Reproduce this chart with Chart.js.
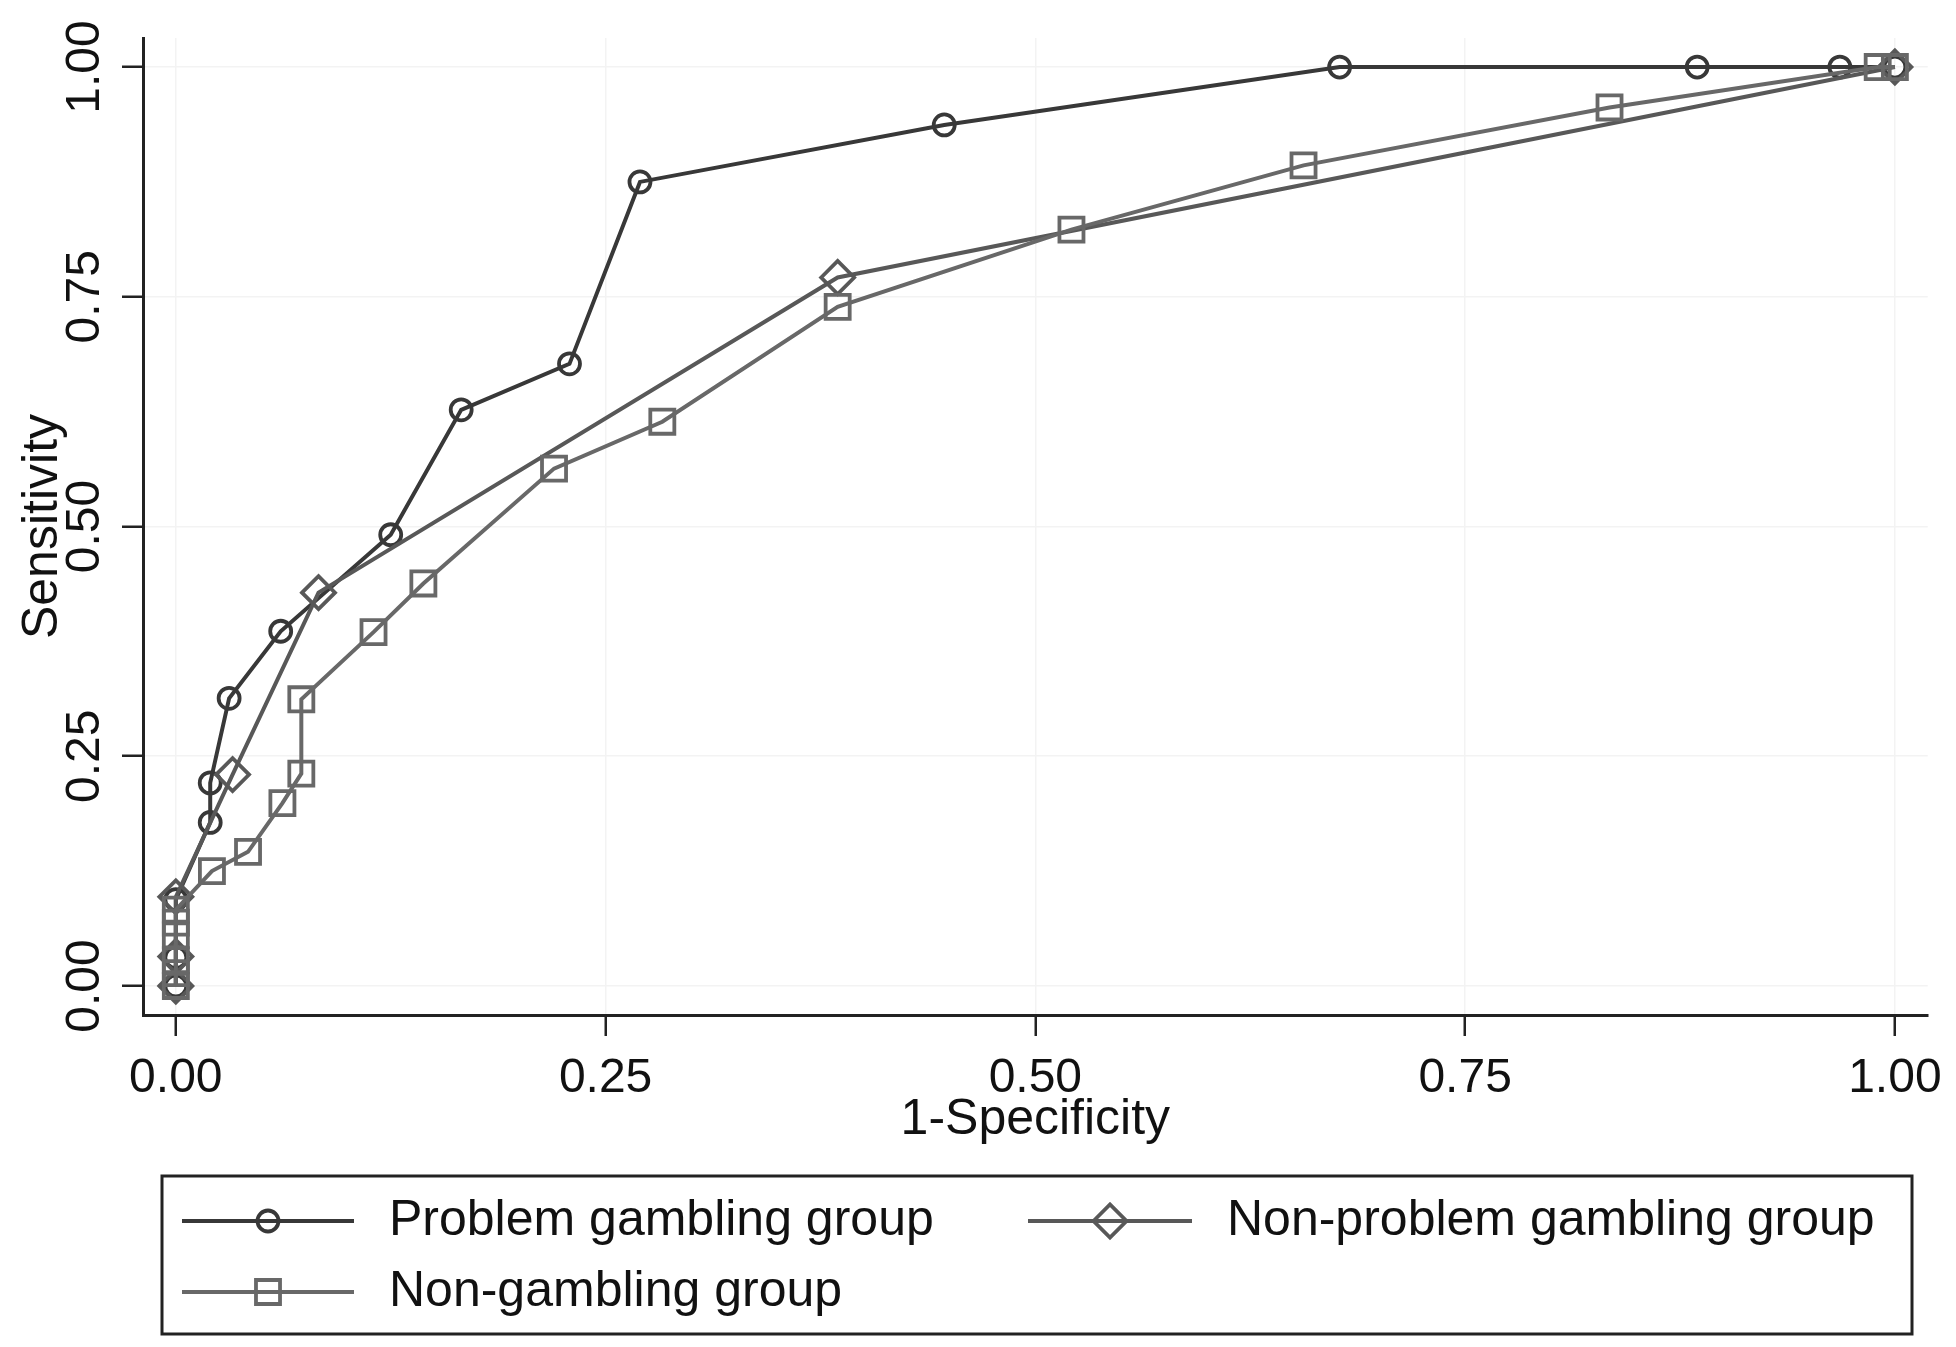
<!DOCTYPE html>
<html lang="en">
<head>
<meta charset="UTF-8">
<title>ROC curves by gambling group</title>
<script src="https://cdn.jsdelivr.net/npm/chart.js"></script>
<style>
  html, body { margin: 0; padding: 0; background: #fff; }
  canvas { display: block; }
</style>
</head>
<body>
<canvas id="roc" width="1956" height="1347"></canvas>
<script>
// tick positions on both axes
const tickValues = [0, 0.25, 0.5, 0.75, 1];

const seriesLabels = ['Problem gambling group', 'Non-problem gambling group', 'Non-gambling group'];

// Problem gambling group (circles)
const problemX = [0, 0, 0, 0.020, 0.020, 0.031, 0.061, 0.125, 0.166, 0.229, 0.270, 0.447, 0.677, 0.885, 0.968, 1];
const problemY = [0, 0.031, 0.094, 0.178, 0.221, 0.313, 0.386, 0.491, 0.627, 0.677, 0.875, 0.937, 1, 1, 1, 1];

// Non-problem gambling group (diamonds)
const nonProblemX = [0, 0, 0, 0.033, 0.083, 0.385, 1];
const nonProblemY = [0, 0.032, 0.097, 0.230, 0.428, 0.771, 1];

// Non-gambling group (squares)
const nonGamblingX = [0, 0, 0, 0, 0, 0, 0.021, 0.042, 0.062, 0.073, 0.073, 0.115, 0.144, 0.220, 0.283, 0.385, 0.521, 0.656, 0.834, 0.990, 1];
const nonGamblingY = [0, 0.014, 0.028, 0.055, 0.069, 0.083, 0.125, 0.146, 0.199, 0.231, 0.312, 0.385, 0.438, 0.563, 0.614, 0.739, 0.823, 0.893, 0.956, 1, 1];

const FONT = '"Liberation Sans", Arial, Helvetica, sans-serif';

function pts(xs, ys) {
  return xs.map((x, i) => ({ x: x, y: ys[i] }));
}

function series(label, data, color, style, radius, order) {
  return {
    label: label,
    data: data,
    borderColor: color,
    borderWidth: 4,
    pointStyle: style,
    pointRadius: radius,
    pointBorderWidth: 3.8,
    pointBorderColor: color,
    pointBackgroundColor: 'rgba(0,0,0,0)',
    fill: false,
    tension: 0,
    order: order
  };
}

// y tick labels are rotated (read bottom to top) like the original
const yTickText = {
  id: 'yTickText',
  afterDraw(chart) {
    const ctx = chart.ctx;
    const ys = chart.scales.y;
    ctx.save();
    ctx.fillStyle = '#111';
    ctx.textAlign = 'center';
    ctx.textBaseline = 'middle';
    ctx.font = '48px ' + FONT;
    ys.ticks.forEach(t => {
      ctx.save();
      ctx.translate(86, ys.getPixelForValue(t.value));
      ctx.rotate(-Math.PI / 2);
      ctx.fillText(t.value.toFixed(2), 0, 0);
      ctx.restore();
    });
    ctx.restore();
  }
};

// boxed legend with line + marker samples, two columns
const boxLegend = {
  id: 'boxLegend',
  afterDraw(chart) {
    const ctx = chart.ctx;
    ctx.save();
    ctx.strokeStyle = '#222';
    ctx.lineWidth = 3;
    ctx.strokeRect(162, 1176, 1750, 158);
    const slots = [[182, 354, 1221], [1028, 1192, 1221], [182, 354, 1292]];
    chart.data.datasets.forEach((ds, i) => {
      const s = slots[i];
      ctx.strokeStyle = ds.borderColor;
      ctx.lineWidth = ds.borderWidth;
      ctx.beginPath();
      ctx.moveTo(s[0], s[2]);
      ctx.lineTo(s[1], s[2]);
      ctx.stroke();
      ctx.fillStyle = 'rgba(0,0,0,0)';
      ctx.lineWidth = ds.pointBorderWidth;
      Chart.helpers.drawPoint(ctx, {
        pointStyle: ds.pointStyle,
        radius: ds.pointRadius,
        borderWidth: ds.pointBorderWidth
      }, (s[0] + s[1]) / 2, s[2]);
      ctx.fillStyle = '#111';
      ctx.font = '50px ' + FONT;
      ctx.textAlign = 'left';
      ctx.textBaseline = 'middle';
      ctx.fillText(ds.label, s[1] + 35, s[2]);
    });
    ctx.restore();
  }
};

new Chart(document.getElementById('roc').getContext('2d'), {
  type: 'line',
  data: {
    datasets: [
      series(seriesLabels[0], pts(problemX, problemY), '#383838', 'circle', 10.5, 3),
      series(seriesLabels[1], pts(nonProblemX, nonProblemY), '#585858', 'rectRot', 16.5, 2),
      series(seriesLabels[2], pts(nonGamblingX, nonGamblingY), '#686868', 'rect', 17, 1)
    ]
  },
  options: {
    responsive: false,
    animation: false,
    devicePixelRatio: 1,
    layout: { padding: { left: 0, top: 38, right: 22, bottom: 197 } },
    plugins: {
      legend: { display: false },
      tooltip: { enabled: false }
    },
    scales: {
      x: {
        type: 'linear',
        min: -0.0191,
        max: 1.0191,
        afterBuildTicks: s => { s.ticks = tickValues.map(v => ({ value: v })); },
        afterFit: s => { s.height = 135; },
        grid: { color: '#f3f3f3', lineWidth: 1.5, tickColor: '#222', tickWidth: 2.5, tickLength: 21 },
        border: { display: true, color: '#222', width: 3 },
        ticks: {
          color: '#111',
          font: { family: FONT, size: 48 },
          padding: 14,
          maxRotation: 0,
          minRotation: 0,
          callback: v => Number(v).toFixed(2)
        },
        title: {
          display: true,
          text: '1-Specificity',
          color: '#111',
          font: { family: FONT, size: 50 },
          padding: { top: 0, bottom: 0 }
        }
      },
      y: {
        type: 'linear',
        min: -0.0316,
        max: 1.0316,
        afterBuildTicks: s => { s.ticks = tickValues.map(v => ({ value: v })); },
        afterFit: s => { s.width = 143; },
        grid: { color: '#f3f3f3', lineWidth: 1.5, tickColor: '#222', tickWidth: 2.5, tickLength: 21 },
        border: { display: true, color: '#222', width: 3 },
        ticks: { display: false },
        title: {
          display: true,
          text: 'Sensitivity',
          color: '#111',
          font: { family: FONT, size: 50 },
          padding: { top: 13, bottom: 0 }
        }
      }
    }
  },
  plugins: [yTickText, boxLegend]
});
</script>
</body>
</html>
